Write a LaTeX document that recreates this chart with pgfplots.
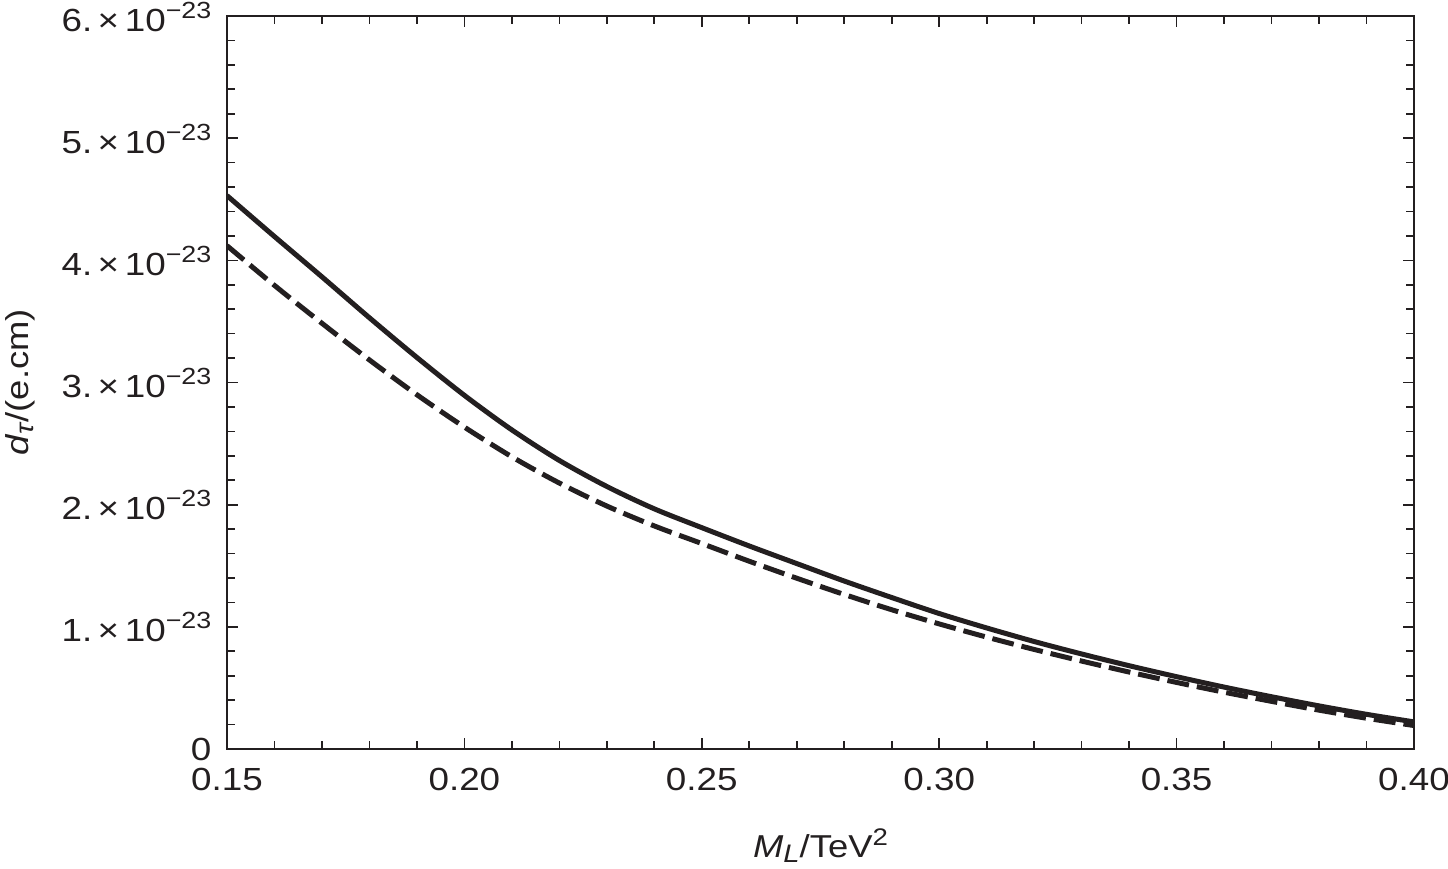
\documentclass[border=0pt]{standalone}
\usepackage{fontspec}
\setmainfont{Liberation Sans}[FakeStretch=1.15]
\usepackage{pgfplots}
\pgfplotsset{compat=1.18}
\definecolor{ink}{RGB}{35,31,32}
\newcommand{\sct}[1]{#1.\hspace{1.6pt}×\hspace{1.7pt}10\raisebox{3.9pt}{\fontsize{7}{8}\selectfont −23}}
\begin{document}
\begin{tikzpicture}
\begin{axis}[
  at={(0,0)}, anchor=south west,
  scale only axis, width=356.1pt, height=219.9pt,
  xmin=0.15, xmax=0.40, ymin=0, ymax=6,
  xtick={0.15,0.2,0.25,0.3,0.35,0.4},
  xticklabels={0.15,0.20,0.25,0.30,0.35,0.40},
  ytick={0,1,2,3,4,5,6},
  yticklabels={\raisebox{1.1pt}{0},\sct{1},\sct{2},\sct{3},\sct{4},\sct{5},\sct{6}},
  minor x tick num=4, minor y tick num=4,
  major tick length=3.3pt, minor tick length=2.4pt,
  every tick/.style={ink, line width=0.5pt},
  axis line style={ink, line width=0.6pt},
  tick label style={font=\fontsize{9.6}{11}\selectfont, text=ink},
  xticklabel style={anchor=base, yshift=-12.3pt, inner sep=0pt},
  yticklabel style={anchor=base east, xshift=-4.5pt, yshift=-4.5pt, inner sep=0pt},
  xlabel={\textit{M}\raisebox{-1.5pt}{\fontsize{7.6}{8}\selectfont\textit{L}}/TeV\raisebox{3.5pt}{\fontsize{7.2}{8}\selectfont 2}},
  ylabel={\textit{d}\raisebox{-1.5pt}{\fontsize{7.6}{8}\selectfont\textit{τ}}/(e.cm)},
  label style={font=\fontsize{9.5}{11}\selectfont, text=ink},
  xlabel style={at={(axis description cs:0.5,0)}, anchor=base, yshift=-32.4pt, inner sep=0pt},
  ylabel style={at={(axis description cs:-0.1744,0.5)}, anchor=center, inner sep=0pt},
]
\addplot[ink, line width=1.5pt, smooth] coordinates {
(0.15,4.53) (0.16,4.195) (0.17,3.865) (0.18,3.53) (0.19,3.205) (0.20,2.895)
(0.21,2.612) (0.22,2.362) (0.23,2.149) (0.24,1.966) (0.25,1.812) (0.26,1.662)
(0.27,1.518) (0.28,1.375) (0.29,1.24) (0.30,1.109) (0.31,0.991) (0.32,0.88)
(0.33,0.778) (0.34,0.682) (0.35,0.592) (0.36,0.507) (0.37,0.428) (0.38,0.353)
(0.39,0.284) (0.40,0.222)
};
\addplot[ink, line width=1.5pt, smooth, dash pattern=on 6.6pt off 2.4pt] coordinates {
(0.15,4.12) (0.16,3.795) (0.17,3.485) (0.18,3.185) (0.19,2.90) (0.20,2.635)
(0.21,2.392) (0.22,2.177) (0.23,1.989) (0.24,1.826) (0.25,1.682) (0.26,1.537)
(0.27,1.398) (0.28,1.265) (0.29,1.14) (0.30,1.024) (0.31,0.916) (0.32,0.815)
(0.33,0.72) (0.34,0.63) (0.35,0.545) (0.36,0.465) (0.37,0.39) (0.38,0.318)
(0.39,0.252) (0.40,0.192)
};
\end{axis}
\pgfresetboundingbox
\path[use as bounding box] (-68.1pt,-35.7pt) rectangle (366.3pt,224.7pt);
\end{tikzpicture}
\end{document}
